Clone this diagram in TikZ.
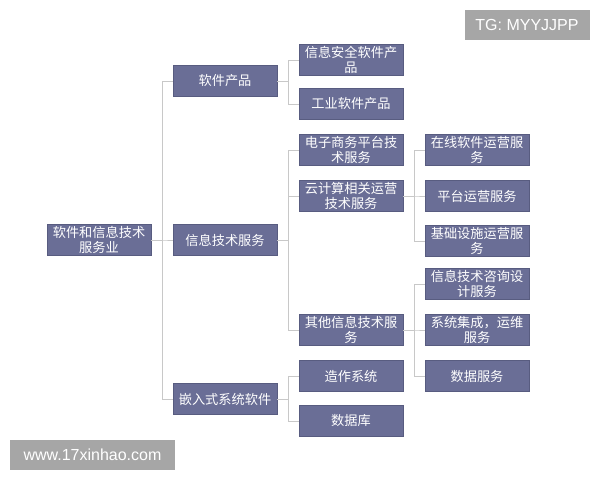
\documentclass[tikz,border=0pt]{standalone}
\usepackage{fontspec}
\setmainfont{Liberation Sans}
\newfontfamily\cjk{Noto Sans CJK SC}
\definecolor{boxblue}{HTML}{6A6E96}
\definecolor{boxedge}{HTML}{585C80}
\definecolor{linegrey}{HTML}{C8C8C8}
\definecolor{stampgrey}{HTML}{A6A6A6}

\begin{document}
\begin{tikzpicture} [x=1pt, y=-1pt,
 every node/.style = {shape=rectangle, align=center},
 item/.style = {fill=boxblue, draw=boxedge, line width=0.6pt, text=white,
  minimum width=104pt, minimum height=31pt, inner sep=0pt,
  font=\cjk\fontsize{13.2}{15.5}\selectfont},
 stamp/.style = {fill=stampgrey, text=white, inner sep=0pt,
  font=\fontsize{16}{18}\selectfont},
 link/.style = {draw=linegrey, line width=1pt}]
 \useasboundingbox (0,0) rectangle (600,480);

 % root
 \node [item] (root) at (99,240) {软件和信息技术\\服务业};

 % first level
 \node [item] (soft) at (225,81) {软件产品};
 \node [item] (its) at (225,240) {信息技术服务};
 \node [item] (emb) at (225,399) {嵌入式系统软件};

 % second level
 \node [item] (sec) at (351,60) {信息安全软件产\\品};
 \node [item] (ind) at (351,104) {工业软件产品};
 \node [item] (ecom) at (351,150) {电子商务平台技\\术服务};
 \node [item] (cloud) at (351,196) {云计算相关运营\\技术服务};
 \node [item] (other) at (351,330) {其他信息技术服\\务};
 \node [item] (os) at (351,376) {造作系统};
 \node [item] (db) at (351,421) {数据库};

 % third level
 \node [item] (online) at (477,150) {在线软件运营服\\务};
 \node [item] (plat) at (477,196) {平台运营服务};
 \node [item] (infra) at (477,241) {基础设施运营服\\务};
 \node [item] (consult) at (477,284) {信息技术咨询设\\计服务};
 \node [item] (integ) at (477,330) {系统集成，运维\\服务};
 \node [item] (data) at (477,376) {数据服务};

 % connectors
 \foreach \c in {soft,its,emb}
  \path [link] (root.east) -- ++(11,0) |- (\c.west);
 \foreach \c in {sec,ind}
  \path [link] (soft.east) -- ++(11,0) |- (\c.west);
 \foreach \c in {ecom,cloud,other}
  \path [link] (its.east) -- ++(11,0) |- (\c.west);
 \foreach \c in {os,db}
  \path [link] (emb.east) -- ++(11,0) |- (\c.west);
 \foreach \c in {online,plat,infra}
  \path [link] (cloud.east) -- ++(11,0) |- (\c.west);
 \foreach \c in {consult,integ,data}
  \path [link] (other.east) -- ++(11,0) |- (\c.west);

 % watermarks
 \node [stamp, minimum width=125pt, minimum height=30pt] (tg) at (527,25) {TG: MYYJJPP};
 \node [stamp, minimum width=165pt, minimum height=30pt] (web) at (92.5,455) {www.17xinhao.com};
\end{tikzpicture}
\end{document}
